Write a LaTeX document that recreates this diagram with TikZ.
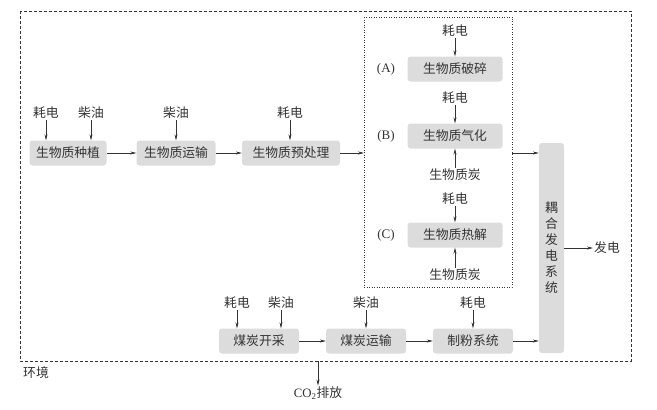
\documentclass[tikz,border=0pt]{standalone}
\usepackage{fontspec}
\setmainfont{Liberation Serif}
\newfontfamily\cjk{Noto Sans CJK SC}
\usetikzlibrary{arrows.meta}
\definecolor{boxgray}{HTML}{DCDCDC}
\definecolor{linec}{HTML}{333333}
\tikzset{
  proc/.style={fill=boxgray, rounded corners=3pt, minimum width=80pt, minimum height=25pt, inner sep=2pt, font=\cjk\fontsize{12.8pt}{15pt}\selectfont, text=linec},
  lbl/.style={font=\cjk\fontsize{12.8pt}{15pt}\selectfont, text=linec, inner sep=1pt},
  tag/.style={font=\fontsize{13pt}{15pt}\selectfont, text=linec, inner sep=1pt},
  arr/.style={draw=linec, line width=0.6pt, -{Stealth[length=6pt,width=3pt]}},
}
\begin{document}
\begin{tikzpicture}[x=1pt,y=-1pt]
\useasboundingbox (0,0) rectangle (657,410);
% outer dashed
\draw[linec, line width=0.6pt, dash pattern=on 3pt off 2pt] (20,11) rectangle (631,361);
% inner dotted
\draw[linec, line width=0.5pt, dash pattern=on 1pt off 1.5pt] (364,17) rectangle (512,287);

% top row
\node[proc, minimum width=77pt] (p1) at (68,153) {生物质种植};
\node[proc, minimum width=79pt] (p2) at (176,153) {生物质运输};
\node[proc, minimum width=98pt] (p3) at (291,153) {生物质预处理};
\node[lbl] (e1) at (46,113) {耗电};
\node[lbl] (d1) at (91,113) {柴油};
\node[lbl] (d2) at (176,113) {柴油};
\node[lbl] (e3) at (290,113) {耗电};
\draw[arr] (e1) -- (e1 |- p1.north);
\draw[arr] (d1) -- (d1 |- p1.north);
\draw[arr] (d2) -- (p2);
\draw[arr] (e3) -- (e3 |- p3.north);
\draw[arr] (p1) -- (p2);
\draw[arr] (p2) -- (p3);
\coordinate (inL) at (364,153);
\coordinate (inR) at (512,153);
\draw[arr] (p3) -- (inL);

% inner box
\node[proc, minimum width=95pt] (a) at (455,69) {生物质破碎};
\node[proc, minimum width=95pt] (b) at (455,136) {生物质气化};
\node[proc, minimum width=95pt] (c) at (455,235) {生物质热解};
\node[tag] (ta) at (386,69) {(A)};
\node[tag] (tb) at (386,136) {(B)};
\node[tag] (tc) at (386,235) {(C)};
\node[lbl] (ea) at (455,31) {耗电};
\node[lbl] (eb) at (455,98) {耗电};
\node[lbl] (bb) at (455,175) {生物质炭};
\node[lbl] (ec) at (455,199) {耗电};
\node[lbl] (bc) at (455,275) {生物质炭};
\draw[arr] (ea) -- (a);
\draw[arr] (eb) -- (b);
\draw[arr] (bb) -- (b);
\draw[arr] (ec) -- (c);
\draw[arr] (bc) -- (c);

% coupling
\node[fill=boxgray, rounded corners=3pt, minimum width=25pt, minimum height=210pt, inner sep=0pt] (cp) at (551.5,248) {};
\node[lbl, align=center, font=\cjk\fontsize{12.8pt}{16pt}\selectfont] (cpt) at (551.5,248) {耦\\合\\发\\电\\系\\统};
\draw[arr] (inR) -- (inR -| cp.west);
\node[lbl] (out) at (607,248) {发电};
\draw[arr] (cp.east |- out) -- (out);

% bottom row
\node[proc] (q1) at (259,341) {煤炭开采};
\node[proc] (q2) at (366,341) {煤炭运输};
\node[proc] (q3) at (473,341) {制粉系统};
\node[lbl] (e4) at (237,303) {耗电};
\node[lbl] (d4) at (281,303) {柴油};
\node[lbl] (d5) at (366,303) {柴油};
\node[lbl] (e6) at (473,303) {耗电};
\draw[arr] (e4) -- (e4 |- q1.north);
\draw[arr] (d4) -- (d4 |- q1.north);
\draw[arr] (d5) -- (q2);
\draw[arr] (e6) -- (q3);
\draw[arr] (q1) -- (q2);
\draw[arr] (q2) -- (q3);
\draw[arr] (q3) -- (q3 -| cp.west);

% environment
\node[lbl] (env) at (36,373) {环境};
\coordinate (co) at (318,361);
\node[inner sep=1pt, text=linec] (co2) at (318,393) {\fontsize{12.8pt}{15pt}\selectfont CO\textsubscript{2}{\cjk 排放}};
\draw[arr] (co) -- (co2);
\end{tikzpicture}
\end{document}
